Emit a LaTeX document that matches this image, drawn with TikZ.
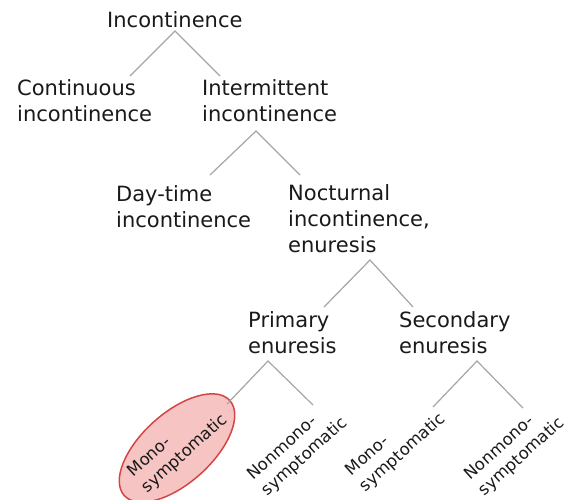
\documentclass[tikz,border=0pt]{standalone}
\usepackage{fontspec}
\setmainfont{DejaVu Sans}
\usetikzlibrary{shapes.geometric}
\definecolor{linegray}{RGB}{165,165,165}
\definecolor{txt}{RGB}{25,25,25}
\definecolor{ellfill}{RGB}{247,196,196}
\definecolor{elldraw}{RGB}{212,70,70}
\begin{document}
\begin{tikzpicture}[x=1pt,y=-1pt,
  lbl/.style={anchor=base west,inner sep=0pt,align=left,text=txt,
    font=\fontsize{21}{26}\selectfont},
  leaf/.style={anchor=center,inner sep=0pt,align=left,text=txt,rotate=42,
    font=\fontsize{16.5}{21}\selectfont},
  conn/.style={draw=linegray,line width=1.2pt},
  hilite/.style={ellipse,draw=elldraw,fill=ellfill,line width=1.5pt,
    minimum width=142pt,minimum height=70pt,rotate=42,inner sep=0pt}]
\useasboundingbox (0,0) rectangle (567,499);
% text nodes (anchor = baseline of the last line)
\node[lbl] (inc) at (107,27) {Incontinence};
\node[lbl] (cont) at (17,121) {Continuous\\incontinence};
\node[lbl] (inter) at (202,121) {Intermittent\\incontinence};
\node[lbl] (day) at (116,227) {Day-time\\incontinence};
\node[lbl] (noct) at (288,252) {Nocturnal\\incontinence,\\enuresis};
\node[lbl] (prim) at (248,353) {Primary\\enuresis};
\node[lbl] (sec) at (399,353) {Secondary\\enuresis};
\node[hilite] (ell) at (177,448) {};
\node[leaf] (pm) at (178,446) {Mono-\\symptomatic};
\node[leaf] (pn) at (298,449) {Nonmono-\\symptomatic};
\node[leaf] (sm) at (396,445) {Mono-\\symptomatic};
\node[leaf] (sn) at (515,449) {Nonmono-\\symptomatic};
% connector points
\coordinate (incA) at (175,31);
\coordinate (contT) at (130,76);
\coordinate (interT) at (220,76);
\coordinate (interA) at (256,131);
\coordinate (dayT) at (210,175);
\coordinate (noctT) at (300,175);
\coordinate (noctA) at (370,260);
\coordinate (primT) at (324,307);
\coordinate (secT) at (413,307);
\coordinate (primA) at (268,361);
\coordinate (pmT) at (227,404);
\coordinate (pnT) at (313,405);
\coordinate (secA) at (477,361);
\coordinate (smT) at (433,407);
\coordinate (snT) at (523,408);
\draw[conn] (contT) -- (incA) -- (interT);
\draw[conn] (dayT) -- (interA) -- (noctT);
\draw[conn] (primT) -- (noctA) -- (secT);
\draw[conn] (pmT) -- (primA) -- (pnT);
\draw[conn] (smT) -- (secA) -- (snT);
\end{tikzpicture}
\end{document}
